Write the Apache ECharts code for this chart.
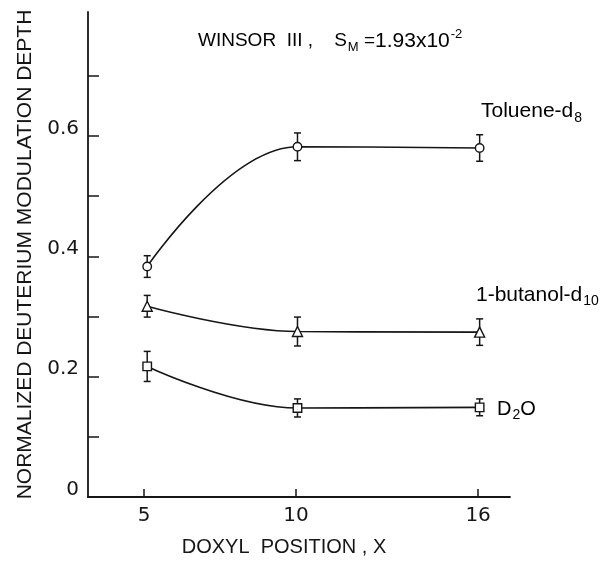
<!DOCTYPE html>
<html>
<head>
<meta charset="utf-8">
<script src="https://cdn.jsdelivr.net/npm/echarts@6/dist/echarts.min.js"></script>
<style>
  html, body { margin: 0; padding: 0; background: #fff; }
  #chart { width: 605px; height: 562px; }
</style>
</head>
<body>
<div id="chart"></div>
<script>
// doxyl position (x) of the measured points
var xPos = [5.1, 10.05, 16.05];
var xTickVals = [5, 10, 16];
var yTickVals = [0.1, 0.2, 0.3, 0.4, 0.5, 0.6, 0.7];
var yLabelVals = [0, 0.2, 0.4, 0.6];

var toluene = [0.383, 0.582, 0.580];
var tolueneErr = [0.018, 0.023, 0.022];
var butanol = [0.317, 0.275, 0.274];
var butanolErr = [0.018, 0.024, 0.022];
var d2o = [0.217, 0.148, 0.149];
var d2oErr = [0.025, 0.015, 0.014];

var FONT = 'Liberation Sans';
var NUMFONT = 'DejaVu Sans';
var INK = '#161616';

function pairs(ys) {
    return xPos.map(function (x, i) { return [x, ys[i]]; });
}
function errData(ys, es) {
    return xPos.map(function (x, i) { return [x, ys[i], es[i]]; });
}

function renderErr(params, api) {
    var x = api.value(0), y = api.value(1), e = api.value(2);
    var top = api.coord([x, y + e]);
    var bot = api.coord([x, y - e]);
    var w = 3.5;
    var st = { stroke: INK, lineWidth: 1.5 };
    return {
        type: 'group',
        children: [
            { type: 'line', shape: { x1: top[0], y1: top[1], x2: bot[0], y2: bot[1] }, style: st },
            { type: 'line', shape: { x1: top[0] - w, y1: top[1], x2: top[0] + w, y2: top[1] }, style: st },
            { type: 'line', shape: { x1: bot[0] - w, y1: bot[1], x2: bot[0] + w, y2: bot[1] }, style: st }
        ]
    };
}

function lineSeries(name, ys, symbol, smooth) {
    return {
        name: name,
        type: 'line',
        data: pairs(ys),
        smooth: smooth,
        symbol: symbol,
        symbolSize: symbol === 'triangle' ? 10 : 8.5,
        showAllSymbol: true,
        z: 5,
        lineStyle: { color: INK, width: 1.6 },
        itemStyle: { color: '#fff', borderColor: INK, borderWidth: 1.4 }
    };
}
function errSeries(ys, es) {
    return {
        type: 'custom',
        renderItem: renderErr,
        data: errData(ys, es),
        z: 3,
        silent: true
    };
}

function rich(size, lh) {
    return {
        n: { fontFamily: FONT, fontSize: size, color: INK, lineHeight: lh, verticalAlign: 'middle' },
        w: { fontFamily: FONT, fontSize: size + 2, color: INK, lineHeight: lh, verticalAlign: 'middle' },
        s: { fontFamily: FONT, fontSize: Math.round(size * 0.68), color: INK, lineHeight: lh, verticalAlign: 'bottom', padding: [9, 0, 0, 1] },
        p: { fontFamily: FONT, fontSize: Math.round(size * 0.68), color: INK, lineHeight: lh, verticalAlign: 'top', padding: [0, 0, 0, 1] }
    };
}

var chart = echarts.init(document.getElementById('chart'));
var option = {
    animation: false,
    backgroundColor: '#fff',
    grid: { left: 88, right: 95, top: 12, bottom: 64 },
    xAxis: {
        type: 'value',
        min: 3.15,
        max: 17.05,
        name: 'DOXYL  POSITION , X',
        nameLocation: 'middle',
        nameGap: 40,
        nameTextStyle: { fontFamily: FONT, fontSize: 20, color: INK, padding: [0, 30, 0, 0] },
        axisLine: { lineStyle: { color: INK, width: 1.8 } },
        axisTick: { inside: true, length: 8, customValues: xTickVals, lineStyle: { color: INK, width: 1.5 } },
        axisLabel: { customValues: xTickVals, fontFamily: NUMFONT, fontSize: 20, color: INK, margin: 9 },
        splitLine: { show: false }
    },
    yAxis: {
        type: 'value',
        min: 0,
        max: 0.806,
        name: 'NORMALIZED DEUTERIUM MODULATION DEPTH',
        nameLocation: 'middle',
        nameGap: 52,
        nameTextStyle: { fontFamily: FONT, fontSize: 21, color: INK },
        axisLine: { show: true, lineStyle: { color: INK, width: 1.8 } },
        axisTick: { show: true, inside: true, length: 11, customValues: yTickVals, lineStyle: { color: INK, width: 1.5 } },
        axisLabel: {
            customValues: yLabelVals, fontFamily: NUMFONT, fontSize: 20, color: INK, margin: 9,
            verticalAlign: 'bottom', lineHeight: 15,
            formatter: function (v) { return v === 0 ? '0' : v.toFixed(1); }
        },
        splitLine: { show: false }
    },
    series: [
        errSeries(toluene, tolueneErr),
        errSeries(butanol, butanolErr),
        errSeries(d2o, d2oErr),
        lineSeries('Toluene-d8', toluene, 'circle', 0.4),
        lineSeries('1-butanol-d10', butanol, 'triangle', 0.4),
        lineSeries('D2O', d2o, 'rect', 0.4)
    ],
    graphic: [
        { type: 'text', left: 198, top: 28, style: { text: '{n|WINSOR  III ,    S}{s|M}{n| =}{w|1.93x10}{p|-2}', rich: rich(19, 26) } },
        { type: 'text', left: 481, top: 101, style: { text: '{n|Toluene-d}{s|8}', rich: rich(21, 28) } },
        { type: 'text', left: 476, top: 285, style: { text: '{n|1-butanol-d}{s|10}', rich: rich(21, 26) } },
        { type: 'text', left: 497, top: 399, style: { text: '{n|D}{s|2}{n|O}', rich: rich(20, 26) } }
    ]
};
chart.setOption(option);
</script>
</body>
</html>
